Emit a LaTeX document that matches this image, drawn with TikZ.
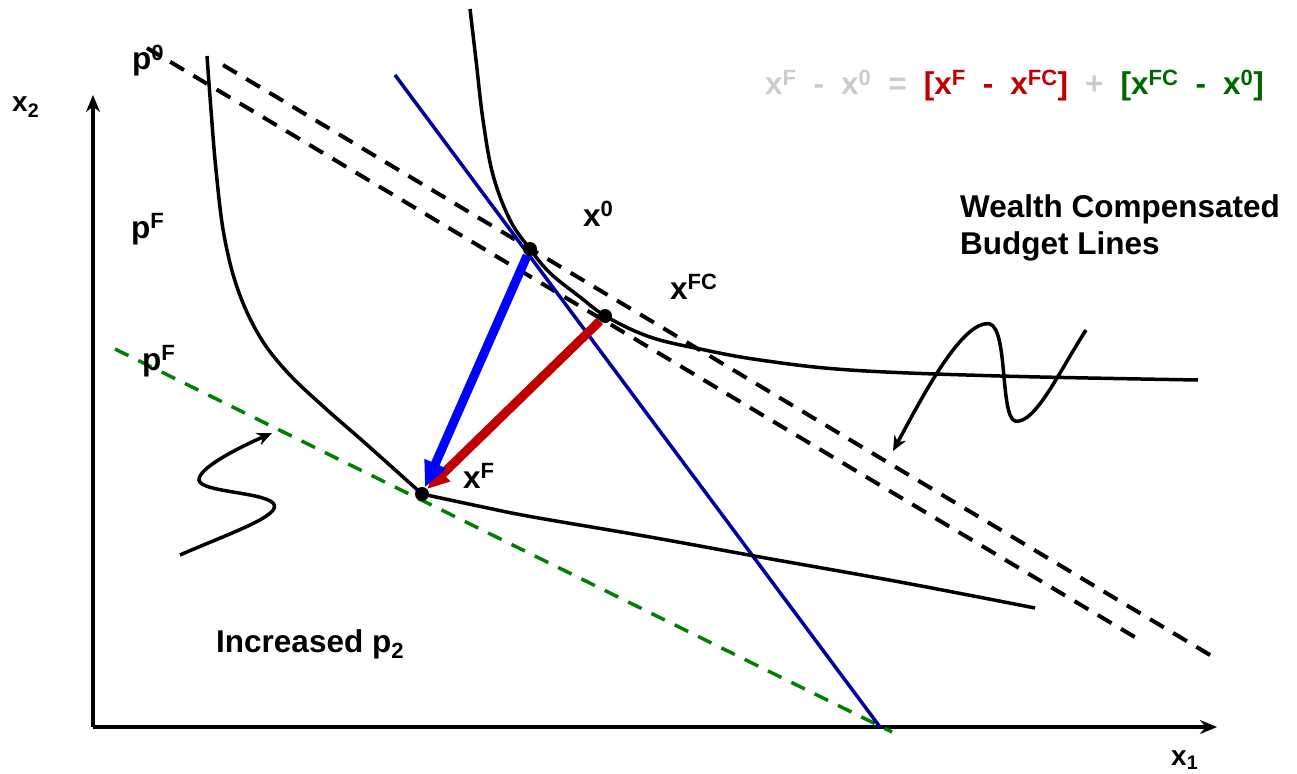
\documentclass[tikz,border=0pt]{standalone}
\usepackage{fontspec}
\setmainfont{Liberation Sans}
\usetikzlibrary{arrows.meta}
\definecolor{navyln}{RGB}{0,0,160}
\definecolor{arrblue}{RGB}{0,0,255}
\definecolor{arrred}{RGB}{192,0,0}
\definecolor{dgreen}{RGB}{0,128,0}
\definecolor{eqgreen}{RGB}{0,102,0}
\definecolor{eqgray}{RGB}{204,204,204}
\newcommand{\sps}[1]{\textsuperscript{#1}}
\newcommand{\sbs}[1]{\textsubscript{#1}}
\newcommand{\eqsp}{\hspace{17pt}}
\begin{document}
\begin{tikzpicture}[x=1pt,y=-1pt,
  lbl/.style={font=\fontsize{31.5}{38}\selectfont\bfseries, inner sep=0pt, anchor=base west},
  axlbl/.style={font=\fontsize{28}{32}\selectfont\bfseries, inner sep=0pt, anchor=base west},
  axisline/.style={line width=3.5pt, -{Stealth[length=17pt,width=14pt]}},
  budget/.style={line width=4pt, dash pattern=on 16pt off 11pt},
  greenbudget/.style={line width=3.5pt, dgreen, dash pattern=on 15pt off 11pt},
  pline/.style={line width=3.5pt, navyln},
  icurve/.style={line width=3.5pt, line join=round},
  squiggle/.style={line width=3.5pt, -{Stealth[length=15pt,width=13pt]}},
  dot/.style={circle, fill=black, minimum size=14pt, inner sep=0pt},
  bluearr/.style={line width=9pt, arrblue, -{Triangle[length=26pt,width=22pt]}},
  redarr/.style={line width=9pt, arrred, -{Triangle[length=22pt,width=20pt]}}
]
\useasboundingbox (0,0) rectangle (1297,773);

% axes
\coordinate (O) at (93,727);
\coordinate (xend) at (1217,727);
\coordinate (yend) at (93,95);
\draw[axisline] (O) -- (xend);
\draw[axisline] (O) -- (yend);

% budget lines
\coordinate (b0s) at (223,65);
\coordinate (b0e) at (1215,658);
\coordinate (bcs) at (147,48);
\coordinate (bce) at (1138,639);
\draw[budget] (b0s) -- (b0e);
\draw[budget] (bcs) -- (bce);
\coordinate (gs) at (115,349);
\coordinate (ge) at (892,732);
\draw[greenbudget] (gs) -- (ge);
\coordinate (ps) at (395,75);
\coordinate (pe) at (880,727);
\draw[pline] (ps) -- (pe);

% indifference curves
\draw[icurve] plot[smooth, tension=0.6] coordinates {(470,9) (476,60) (483,120) (493,175) (510,220) (530,249) (550,273) (580,297) (607,317) (650,337) (700,349) (760,360) (850,370) (1000,376) (1198,380)};
\draw[icurve] plot[smooth, tension=0.6] coordinates {(207,56) (211,110) (216,170) (224,235) (238,290) (260,337) (288,373) (325,408) (365,443) (422,494)};
\draw[icurve] plot[smooth, tension=0.6] coordinates {(422,494) (483,507) (533,517) (650,537) (760,557) (900,582) (1035,608)};

% squiggle arrows
\coordinate (sqLs) at (180,555);
\coordinate (sqLe) at (272,433);
\draw[squiggle] (sqLs) .. controls (225,535) and (285,515) .. (273,503) .. controls (262,492) and (200,492) .. (199,480) .. controls (198,468) and (240,447) .. (sqLe);
\coordinate (sqRs) at (1086,330);
\coordinate (sqRe) at (893,451);
\draw[squiggle] (sqRs) .. controls (1060,370) and (1035,425) .. (1015,421) .. controls (1000,416) and (1008,330) .. (990,324) .. controls (962,318) and (918,405) .. (sqRe);

% points
\node[dot] (x0) at (530,249) {};
\node[dot] (xFC) at (605,316) {};
\node[dot] (xF) at (422,494) {};

% decomposition arrows
\draw[redarr] (xFC) -- (xF);
\draw[bluearr] (x0) -- (xF);

% labels
\node[lbl] (lp0) at (132,70) {p\sps{0}};
\node[lbl] (lpF1) at (131,238) {p\sps{F}};
\node[lbl] (lpF2) at (142,370) {p\sps{F}};
\node[lbl] (lx0) at (583,226) {x\sps{0}};
\node[lbl] (lxFC) at (670,299) {x\sps{FC}};
\node[lbl] (lxF) at (463,488) {x\sps{F}};
\node[lbl] (wc1) at (960,217) {Wealth Compensated};
\node[lbl] (wc2) at (960,254) {Budget Lines};
\node[lbl] (inc) at (216,652) {Increased p\sbs{2}};
\node[axlbl] (lx2) at (12,112) {x\sbs{2}};
\node[axlbl] (lx1) at (1171,765) {x\sbs{1}};
\node[lbl] (eq) at (765,95) {\textcolor{eqgray}{x\sps{F}\eqsp-\eqsp x\sps{0}\eqsp=}\eqsp\textcolor{arrred}{[x\sps{F}\eqsp-\eqsp x\sps{FC}]}\eqsp\textcolor{eqgray}{+}\eqsp\textcolor{eqgreen}{[x\sps{FC}\eqsp-\eqsp x\sps{0}]}};
\end{tikzpicture}
\end{document}
